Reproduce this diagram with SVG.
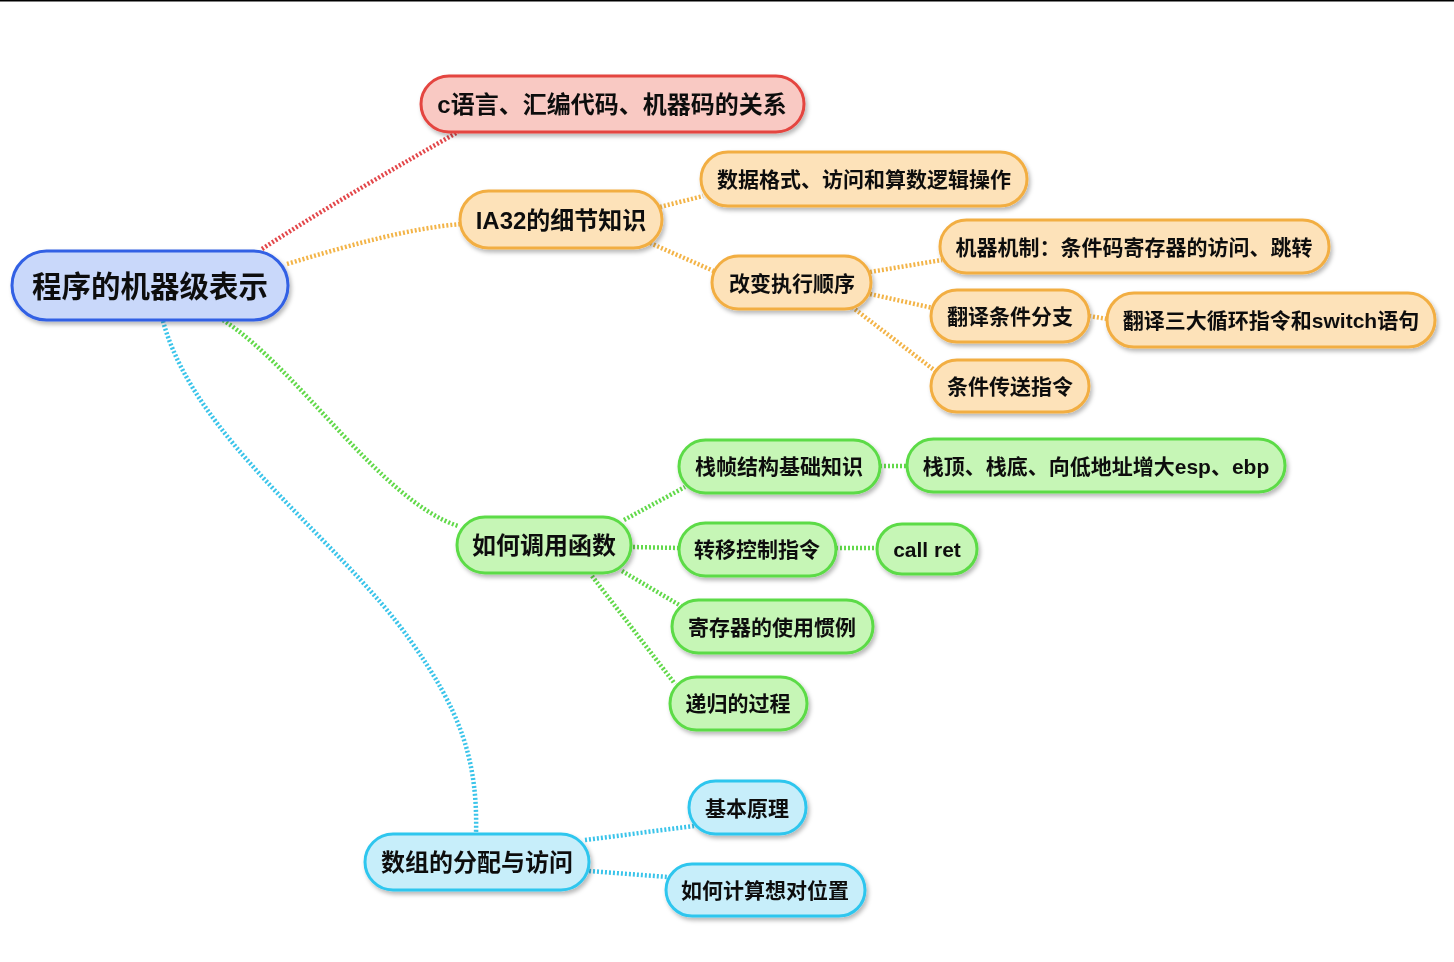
<svg xmlns="http://www.w3.org/2000/svg" width="1454" height="962" viewBox="0 0 1454 962">
<defs>
<filter id="sh" x="-10%" y="-20%" width="130%" height="160%">
<feDropShadow dx="2" dy="3" stdDeviation="2" flood-color="#000" flood-opacity="0.28"/>
</filter>
<style>
.t{font-family:"Liberation Sans","Noto Sans CJK SC",sans-serif;font-weight:bold;fill:#111;text-anchor:middle;dominant-baseline:central}
.s{font-size:21px}
.m{font-size:24px}
.n{stroke-width:3}
.root{fill:#c9d8fa;stroke:#3060e4}
.red{fill:#f9c9c3;stroke:#e4453f}
.org{fill:#fde2b9;stroke:#f2ae43}
.grn{fill:#c6f6b6;stroke:#5cdb46}
.cyn{fill:#c7eefa;stroke:#2fc6ee}
.c{fill:none;stroke-width:4.5;stroke-dasharray:2 2}
.cr{stroke:#e3474a}
.co{stroke:#f3b448}
.cg{stroke:#62d94a}
.cc{stroke:#3ac4ea}
</style>
</defs>
<rect x="0" y="0" width="1454" height="962" fill="#fff"/>
<line x1="0" y1="0.75" x2="1454" y2="0.75" stroke="#000" stroke-width="1.5"/>
<g id="connectors">
<path class="c cr" d="M262,249 C330,205 400,165 458,132"/>
<path class="c co" d="M287,264 C350,245 410,228 462,224"/>
<path class="c cg" d="M223,320 C300,370 380,500 458,526"/>
<path class="c cc" d="M163,321 C195,440 340,540 410,640 C460,710 478,760 476,834"/>
<path class="c co" d="M660,207 L703,196"/>
<path class="c co" d="M650,243 L716,272"/>
<path class="c co" d="M870,272 L942,260"/>
<path class="c co" d="M870,294 L933,308"/>
<path class="c co" d="M852,307 L938,373"/>
<path class="c co" d="M1089,316 L1108,319"/>
<path class="c cg" d="M624,520 L685,487"/>
<path class="c cg" d="M633,547 L680,548"/>
<path class="c cg" d="M622,571 L681,606"/>
<path class="c cg" d="M592,576 L675,684"/>
<path class="c cg" d="M880,466 L908,466"/>
<path class="c cg" d="M836,548 L878,548"/>
<path class="c cc" d="M585,840 L694,826"/>
<path class="c cc" d="M589,871 L668,877"/>
</g>
<g id="root" filter="url(#sh)"><rect class="n root" x="12" y="251" width="276" height="69" rx="34.5"/><text class="t" x="150" y="286" font-size="29.5">程序的机器级表示</text></g>
<g id="n-c" filter="url(#sh)"><rect class="n red" x="421" y="76" width="383" height="56" rx="28"/><text class="t m" x="612" y="104">c语言、汇编代码、机器码的关系</text></g>
<g id="n-ia32" filter="url(#sh)"><rect class="n org" x="460" y="191" width="202" height="57" rx="28.5"/><text class="t m" x="561" y="220">IA32的细节知识</text></g>
<g id="n-data" filter="url(#sh)"><rect class="n org" x="701" y="152" width="326" height="54" rx="27"/><text class="t s" x="864" y="179">数据格式、访问和算数逻辑操作</text></g>
<g id="n-order" filter="url(#sh)"><rect class="n org" x="712" y="256" width="159" height="53" rx="26.5"/><text class="t s" x="792" y="283">改变执行顺序</text></g>
<g id="n-mech" filter="url(#sh)"><rect class="n org" x="940" y="220" width="389" height="53" rx="26.5"/><text class="t s" x="1134" y="247">机器机制：条件码寄存器的访问、跳转</text></g>
<g id="n-branch" filter="url(#sh)"><rect class="n org" x="931" y="290" width="158" height="52" rx="26"/><text class="t s" x="1010" y="316">翻译条件分支</text></g>
<g id="n-loop" filter="url(#sh)"><rect class="n org" x="1107" y="293" width="328" height="54" rx="27"/><text class="t s" x="1271" y="320">翻译三大循环指令和switch语句</text></g>
<g id="n-cmov" filter="url(#sh)"><rect class="n org" x="931" y="360" width="158" height="52" rx="26"/><text class="t s" x="1010" y="386">条件传送指令</text></g>
<g id="n-call" filter="url(#sh)"><rect class="n grn" x="457" y="517" width="174" height="56" rx="28"/><text class="t m" x="544" y="545">如何调用函数</text></g>
<g id="n-frame" filter="url(#sh)"><rect class="n grn" x="679" y="440" width="201" height="53" rx="26.5"/><text class="t s" x="779" y="466">栈帧结构基础知识</text></g>
<g id="n-stack" filter="url(#sh)"><rect class="n grn" x="907" y="439" width="378" height="53" rx="26.5"/><text class="t s" x="1096" y="466">栈顶、栈底、向低地址增大esp、ebp</text></g>
<g id="n-xfer" filter="url(#sh)"><rect class="n grn" x="679" y="523" width="157" height="53" rx="26.5"/><text class="t s" x="757" y="549">转移控制指令</text></g>
<g id="n-callret" filter="url(#sh)"><rect class="n grn" x="877" y="524" width="100" height="50" rx="25"/><text class="t s" x="927" y="549">call ret</text></g>
<g id="n-reg" filter="url(#sh)"><rect class="n grn" x="672" y="600" width="201" height="53" rx="26.5"/><text class="t s" x="772" y="627">寄存器的使用惯例</text></g>
<g id="n-rec" filter="url(#sh)"><rect class="n grn" x="670" y="677" width="137" height="53" rx="26.5"/><text class="t s" x="738" y="703">递归的过程</text></g>
<g id="n-array" filter="url(#sh)"><rect class="n cyn" x="365" y="834" width="224" height="56" rx="28"/><text class="t m" x="477" y="862">数组的分配与访问</text></g>
<g id="n-basic" filter="url(#sh)"><rect class="n cyn" x="689" y="781" width="117" height="53" rx="26.5"/><text class="t s" x="747" y="808">基本原理</text></g>
<g id="n-pos" filter="url(#sh)"><rect class="n cyn" x="666" y="864" width="199" height="52" rx="26"/><text class="t s" x="765" y="890">如何计算想对位置</text></g>
</svg>
